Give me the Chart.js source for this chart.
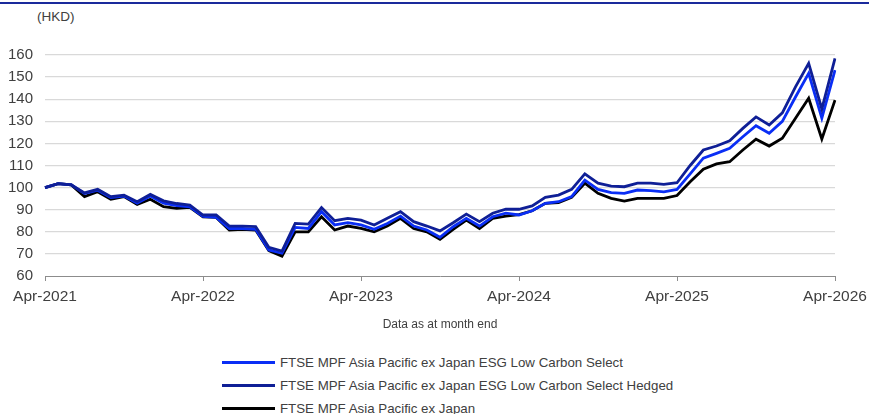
<!DOCTYPE html>
<html>
<head>
<meta charset="utf-8">
<script src="https://cdn.jsdelivr.net/npm/chart.js@4.4.1/dist/chart.umd.min.js"></script>
<style>
  html, body { margin:0; padding:0; background:#fff; }
  body { width:869px; height:414px; position:relative; overflow:hidden; font-family:"Liberation Sans", Arial, sans-serif; }
  #topline { position:absolute; left:0; top:2px; width:869px; height:2px; background:#1a2a9c; }
  #unit { position:absolute; left:37px; top:9px; font-size:13.5px; color:#404040; }
  #wrap { position:absolute; left:0; top:0; width:869px; height:340px; }
  #legend { position:absolute; left:222px; top:351px; }
  .li { display:flex; align-items:center; height:23px; font-size:13.3px; color:#404040; }
  .sw { width:53px; height:3px; margin-right:5px; }
</style>
</head>
<body>
<div id="topline"></div>
<div id="unit">(HKD)</div>
<div id="wrap"><canvas id="c"></canvas></div>
<div id="legend"></div>
<script>
const months = ["Apr","May","Jun","Jul","Aug","Sep","Oct","Nov","Dec","Jan","Feb","Mar"];
const categories = [];
for (let i = 0; i <= 60; i++) {
  const y = 2021 + Math.floor((i + 3) / 12);
  categories.push(months[i % 12] + "-" + y);
}
const seriesNames = [
  "FTSE MPF Asia Pacific ex Japan ESG Low Carbon Select",
  "FTSE MPF Asia Pacific ex Japan ESG Low Carbon Select Hedged",
  "FTSE MPF Asia Pacific ex Japan"
];
const esgSelect = [
  100, 101.8, 101.2, 97.3, 98.8, 95.5, 96.2, 93, 96.2, 93, 91.8, 91.3,
  87, 86.5, 81.5, 81.5, 81.1, 71.8, 70.3, 82, 81.5, 89.1, 83.1, 84.1,
  83.1, 81.1, 83.8, 87.1, 82.6, 80.8, 77.5, 82.3, 86.1, 82.6, 86.8, 88.4,
  87.6, 89.5, 92.9, 93.6, 95.9, 103.4, 99.2, 97.7, 97.4, 98.9, 98.6, 98.1,
  99.2, 106.2, 113.3, 115.5, 117.8, 123, 128, 124.6, 130, 141, 151.7, 131.4, 153.2
];
const esgHedged = [
  100, 101.8, 101.2, 97.6, 99.2, 95.9, 96.6, 93.6, 96.9, 94, 92.8, 92.1,
  87.6, 87.6, 82.6, 82.6, 82.3, 73, 71.3, 83.8, 83.5, 91, 85, 86.1,
  85.3, 83.1, 86.1, 89.1, 84.6, 82.6, 80.4, 84.1, 88, 84.6, 88.4, 90.2,
  90.2, 91.7, 95.6, 96.6, 99.2, 106.2, 102, 100.7, 100.4, 102, 102, 101.5,
  102.2, 110, 117, 118.8, 121.2, 126.8, 132, 128.3, 133.8, 145.6, 156.2, 135.6, 158.5
];
const apxj = [
  100, 101.8, 101.2, 95.9, 98.1, 94.7, 95.9, 92.4, 94.7, 91.4, 90.6, 91.1,
  86.8, 86.5, 80.8, 81.1, 80.8, 71.5, 69, 80, 80, 86.8, 80.8, 82.6,
  81.5, 80, 82.6, 86.1, 81.5, 80, 76.6, 81.1, 85.3, 81.5, 86.1, 87.1,
  87.8, 89.5, 92.9, 93.2, 95.6, 102, 97.4, 95.1, 93.9, 95.1, 95.1, 95.1,
  96.4, 102.6, 108.3, 110.7, 111.7, 117, 121.9, 118.8, 122.3, 131.4, 140.4, 122, 139.6
];
const yTicks = [60, 70, 80, 90, 100, 110, 120, 130, 140, 150, 160];
const colors = ["#0a2ef5", "#0f1f96", "#000000"];

const datasets = [esgSelect, esgHedged, apxj].map((d, i) => ({
  label: seriesNames[i], data: d, borderColor: colors[i], backgroundColor: colors[i],
  borderWidth: 2.8, pointRadius: 0, tension: 0, fill: false
}));
datasets[0].order = 2; datasets[1].order = 1; datasets[2].order = 3;

const FONT = "'Liberation Sans', Arial, sans-serif";
new Chart(document.getElementById("c"), {
  type: "line",
  data: { labels: categories, datasets },
  options: {
    responsive: true, maintainAspectRatio: false, animation: false,
    layout: { padding: { left: 0, right: 34, top: 55, bottom: 0 } },
    plugins: { legend: { display: false }, tooltip: { enabled: false } },
    scales: {
      x: {
        type: "category", offset: false,
        afterFit: s => { s.height = 64; s.paddingLeft = 0; s.paddingRight = 0; },
        grid: {
          display: true, drawOnChartArea: false, drawTicks: true, tickLength: 5,
          color: ctx => (ctx.index % 12 === 0 ? "#8c8c8c" : "rgba(0,0,0,0)")
        },
        border: { display: true, color: "#8c8c8c", width: 1 },
        ticks: {
          autoSkip: false, maxRotation: 0, minRotation: 0, padding: 6,
          color: "#404040", font: { family: FONT, size: 15.5 },
          callback: function (v, i) { return i % 12 === 0 ? categories[i] : ""; }
        },
        title: { display: true, text: "Data as at month end", color: "#404040",
                 font: { family: FONT, size: 12 }, padding: { top: 0, bottom: 8 } }
      },
      y: {
        min: 60, max: 160,
        afterFit: s => { s.width = 45; s.paddingTop = 0; s.paddingBottom = 0; },
        afterBuildTicks: s => { s.ticks = yTicks.map(v => ({ value: v })); },
        grid: { color: ctx => (ctx.tick && ctx.tick.value === 60 ? "rgba(0,0,0,0)" : "#d9d9d9"), lineWidth: 1.3, drawTicks: false },
        border: { display: false },
        ticks: { padding: 12, color: "#404040", font: { family: FONT, size: 15 } }
      }
    }
  }
});

const lg = document.getElementById("legend");
seriesNames.forEach((n, i) => {
  const row = document.createElement("div");
  row.className = "li";
  const sw = document.createElement("span");
  sw.className = "sw"; sw.style.background = colors[i];
  const t = document.createElement("span");
  t.textContent = n;
  row.appendChild(sw); row.appendChild(t);
  lg.appendChild(row);
});
</script>
</body>
</html>
